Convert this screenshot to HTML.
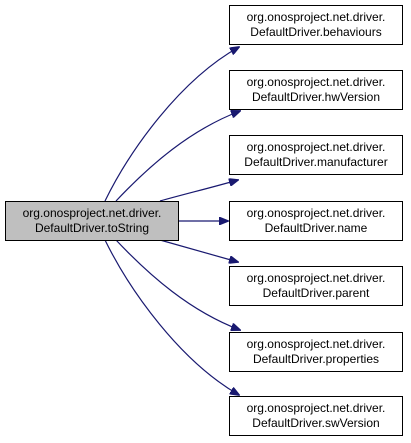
<!DOCTYPE html>
<html><head><style>
html,body{margin:0;padding:0;background:#fff;}
svg{display:block}
text{font-family:"Liberation Sans",sans-serif;font-size:12px;text-anchor:middle;fill:#000}
</style></head><body>
<svg width="411" height="443" viewBox="0 0 411 443">
<defs><marker id="a" markerWidth="10" markerHeight="8" refX="9" refY="4" orient="auto" markerUnits="userSpaceOnUse"><path d="M0,0 L10,4 L0,8 Z" fill="#191970" stroke="#191970"/></marker></defs>
<g fill="none" stroke="#191970" stroke-width="1.2" marker-end="url(#a)">
<path d="M105,201 C130,150 180,80 239,47"/>
<path d="M116,201 C150,165 190,130 240,111"/>
<path d="M160,201 C185,194 210,188 238,180"/>
<path d="M179,221 L228,221"/>
<path d="M160,240 C185,247 210,254 238,262"/>
<path d="M116,240 C150,276 190,311 240,330"/>
<path d="M105,240 C130,291 180,361 239,395"/>
</g>
<rect x="5.5" y="201.5" width="173" height="39" fill="#bfbfbf" stroke="#000"/>
<text x="92" y="217">org.onosproject.net.driver.</text><text x="92" y="232">DefaultDriver.toString</text>
<g fill="#fff" stroke="#000">
<rect x="229.5" y="5.5" width="173" height="39"/>
<rect x="229.5" y="70.5" width="173" height="39"/>
<rect x="229.5" y="135.5" width="173" height="39"/>
<rect x="229.5" y="201.5" width="173" height="39"/>
<rect x="229.5" y="266.5" width="173" height="39"/>
<rect x="229.5" y="332.5" width="173" height="39"/>
<rect x="229.5" y="396.5" width="173" height="39"/>
</g>
<text x="316" y="21">org.onosproject.net.driver.</text><text x="316" y="36">DefaultDriver.behaviours</text>
<text x="316" y="86">org.onosproject.net.driver.</text><text x="316" y="101">DefaultDriver.hwVersion</text>
<text x="316" y="151">org.onosproject.net.driver.</text><text x="316" y="166">DefaultDriver.manufacturer</text>
<text x="316" y="217">org.onosproject.net.driver.</text><text x="316" y="232">DefaultDriver.name</text>
<text x="316" y="282">org.onosproject.net.driver.</text><text x="316" y="297">DefaultDriver.parent</text>
<text x="316" y="348">org.onosproject.net.driver.</text><text x="316" y="363">DefaultDriver.properties</text>
<text x="316" y="412">org.onosproject.net.driver.</text><text x="316" y="427">DefaultDriver.swVersion</text>
</svg>
</body></html>
